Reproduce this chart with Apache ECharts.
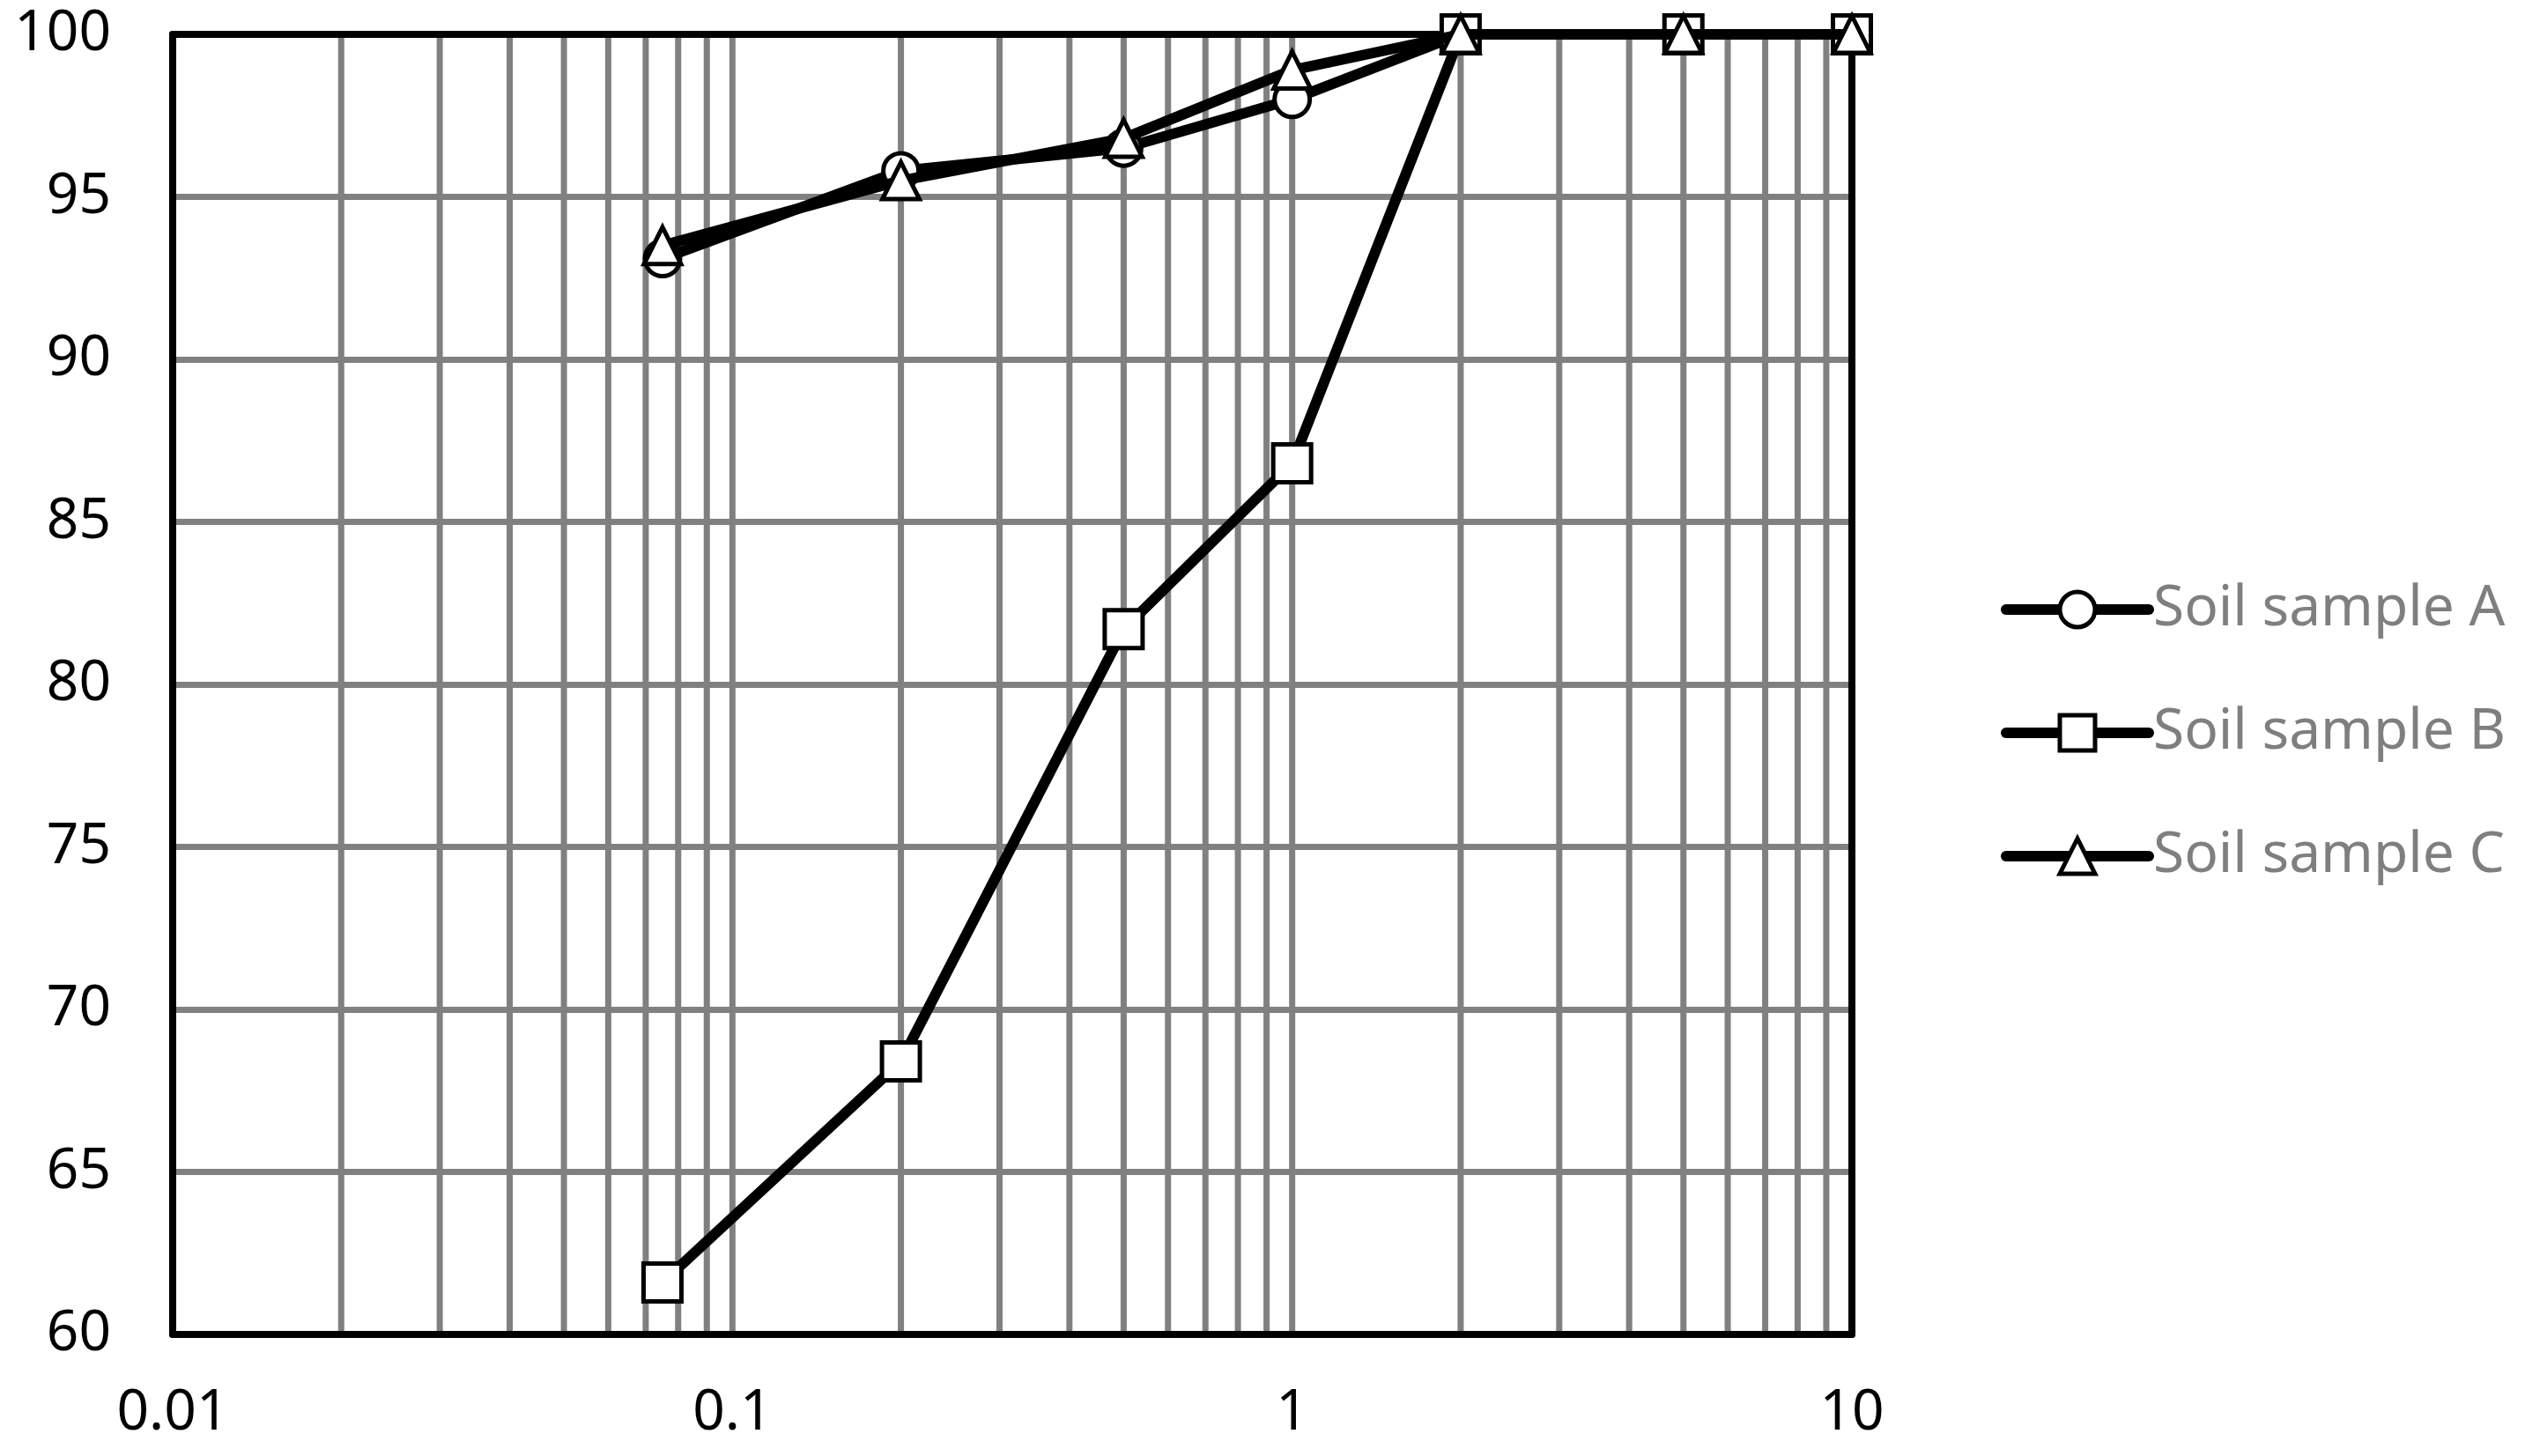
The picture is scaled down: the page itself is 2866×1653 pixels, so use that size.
<!DOCTYPE html>
<html>
<head>
<meta charset="utf-8">
<script src="https://cdn.jsdelivr.net/npm/echarts@6/dist/echarts.min.js"></script>
<style>
  html, body { margin: 0; padding: 0; background: #fff; }
  #chart { width: 2866px; height: 1653px; }
</style>
</head>
<body>
<div id="chart"></div>
<script>
// sieve sizes (mm)
var sizes = [0.075, 0.2, 0.5, 1, 2, 5, 10];
var sampleA = [93.1, 95.8, 96.5, 98.0, 100, 100, 100];
var sampleB = [61.6, 68.4, 81.7, 86.8, 100, 100, 100];
var sampleC = [93.5, 95.5, 96.8, 98.9, 100, 100, 100];
var seriesNames = ['Soil sample A', 'Soil sample B', 'Soil sample C'];
var seriesSymbols = ['circle', 'rect', 'triangle'];
// vertical grid lines of the log axis
var xGridValues = [0.02, 0.03, 0.04, 0.05, 0.06, 0.07, 0.08, 0.09, 0.1,
  0.2, 0.3, 0.4, 0.5, 0.6, 0.7, 0.8, 0.9, 1,
  2, 3, 4, 5, 6, 7, 8, 9];
var xTickLabels = { 0.01: '0.01', 0.1: '0.1', 1: '1', 10: '10' };

var gray = '#808080';
var font = '"Noto Sans", "Open Sans", sans-serif';
var chart = echarts.init(document.getElementById('chart'));

function pairs(ys) {
  return sizes.map(function (x, i) { return [x, ys[i]]; });
}

var symbolSizes = [40, 43, 42];
var sampleSeries = [sampleA, sampleB, sampleC].map(function (vals, i) {
  return {
    name: seriesNames[i],
    type: 'line',
    data: pairs(vals),
    z: 3 + i,
    symbol: seriesSymbols[i],
    symbolSize: symbolSizes[i],
    lineStyle: { color: '#000', width: 12 },
    itemStyle: { color: '#fff', borderColor: '#000', borderWidth: 5 },
    animation: false
  };
});

chart.setOption({
  animation: false,
  grid: { left: 196, right: 764, top: 39, bottom: 138 },
  legend: {
    data: seriesNames,
    orient: 'vertical',
    left: 2266,
    top: 655,
    itemWidth: 162,
    itemHeight: 50,
    itemGap: 76,
    lineStyle: { width: 12, cap: 'round' },
    itemStyle: { borderWidth: 5 },
    textStyle: { color: '#7f7f7f', fontSize: 64, fontFamily: font }
  },
  xAxis: [{
    type: 'log',
    logBase: 10,
    min: 0.01,
    max: 10,
    z: 1,
    axisLine: { lineStyle: { color: '#000', width: 8 } },
    axisTick: { show: false },
    splitLine: { show: false },
    axisLabel: {
      fontSize: 64, color: '#000', fontFamily: font, margin: 58,
      formatter: function (v) { return xTickLabels[v] || String(v); }
    }
  }, {
    type: 'value', position: 'top', min: 0, max: 1, z: 1,
    axisLine: { show: true, lineStyle: { color: '#000', width: 8 } },
    axisTick: { show: false }, axisLabel: { show: false }, splitLine: { show: false }
  }],
  yAxis: [{
    type: 'value',
    min: 60,
    max: 100,
    interval: 5,
    z: 0,
    axisLine: { show: true, lineStyle: { color: '#000', width: 8 } },
    axisTick: { show: false },
    splitLine: { show: true, lineStyle: { color: gray, width: 7 } },
    axisLabel: { fontSize: 64, color: '#000', fontFamily: font, margin: 70 }
  }, {
    type: 'value', position: 'right', min: 0, max: 1, z: 1,
    axisLine: { show: true, lineStyle: { color: '#000', width: 8 } },
    axisTick: { show: false }, axisLabel: { show: false }, splitLine: { show: false }
  }],
  series: [{
    type: 'custom',
    name: 'grid',
    z: 0,
    silent: true,
    data: xGridValues,
    renderItem: function (params, api) {
      var p0 = api.coord([api.value(0), 60]);
      var p1 = api.coord([api.value(0), 100]);
      return {
        type: 'line',
        shape: { x1: p0[0], y1: p0[1], x2: p1[0], y2: p1[1] },
        style: { stroke: gray, lineWidth: 7 }
      };
    }
  }].concat(sampleSeries)
});
</script>
</body>
</html>
